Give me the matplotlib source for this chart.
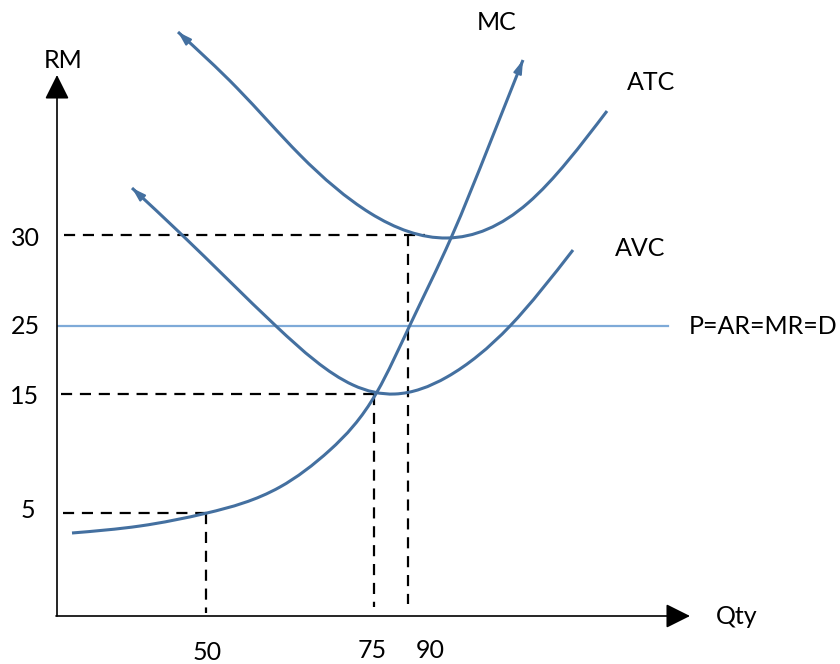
import numpy as np
import matplotlib
matplotlib.use("Agg")
import matplotlib.pyplot as plt
from matplotlib.path import Path
from matplotlib.patches import PathPatch, FancyArrowPatch

# ---- schematic data (canvas units: x = quantity position, y = price position, y grows downward) ----
mc_q = [72, 140, 207, 280, 330, 377, 410, 451, 490, 523]
mc_p = [533, 526, 513, 487, 450, 392, 325, 238, 143, 60]

atc_q = [178, 237, 300, 370, 447, 528, 607]
atc_p = [32, 88, 155, 213, 238, 203, 111]

avc_q = [132, 180, 277, 353, 395, 447, 510, 573]
avc_p = [188, 233, 327, 385, 394, 377, 326, 250]

y_tick_labels = ["30", "25", "15", "5"]
y_tick_pos = [235, 326, 394, 513]
x_tick_labels = ["50", "75", "90"]
x_tick_pos = [206, 374, 408]
x_label_pos = [207, 372, 430]

price_line_y = 326
origin = (57, 616)

CURVE = "#4470a0"
PLINE = "#7eaad8"
FONT = ["Lato", "DejaVu Sans"]
FS = 18

fig = plt.figure(figsize=(8.4, 6.64), dpi=100)
ax = fig.add_axes([0, 0, 1, 1])
ax.set_xlim(0, 840)
ax.set_ylim(664, 0)
ax.axis("off")


def smooth_path(xs, ys):
    # natural cubic spline y(x) through the points, expressed as Bezier segments
    x = np.asarray(xs, float)
    y = np.asarray(ys, float)
    n = len(x)
    h = np.diff(x)
    A = np.zeros((n, n))
    r = np.zeros(n)
    A[0, 0] = A[-1, -1] = 1.0
    for i in range(1, n - 1):
        A[i, i - 1] = h[i - 1]
        A[i, i] = 2 * (h[i - 1] + h[i])
        A[i, i + 1] = h[i]
        r[i] = 6 * ((y[i + 1] - y[i]) / h[i] - (y[i] - y[i - 1]) / h[i - 1])
    M = np.linalg.solve(A, r)
    d = np.zeros(n)
    for i in range(n - 1):
        d[i] = (y[i + 1] - y[i]) / h[i] - h[i] * (2 * M[i] + M[i + 1]) / 6
    d[-1] = (y[-1] - y[-2]) / h[-1] + h[-1] * (M[-2] + 2 * M[-1]) / 6
    verts = [(x[0], y[0])]
    codes = [Path.MOVETO]
    for i in range(n - 1):
        verts += [(x[i] + h[i] / 3, y[i] + d[i] * h[i] / 3),
                  (x[i + 1] - h[i] / 3, y[i + 1] - d[i + 1] * h[i] / 3),
                  (x[i + 1], y[i + 1])]
        codes += [Path.CURVE4] * 3
    return Path(verts, codes)


for xs, ys in [(mc_q, mc_p), (atc_q, atc_p), (avc_q, avc_p)]:
    ax.add_patch(PathPatch(smooth_path(xs, ys), fill=False, edgecolor=CURVE,
                           lw=2.2, capstyle="butt", zorder=3))


def hook(x0, y0, x1, y1):
    # small barb at the free end of a curve
    d = np.array([x0 - x1, y0 - y1], float)
    d /= np.hypot(*d)
    start = np.array([x0, y0]) - d * 14
    ax.add_patch(FancyArrowPatch(tuple(start), (x0, y0),
                                 arrowstyle="-|>,head_length=3.2,head_width=1.0",
                                 color=CURVE, lw=1.5, mutation_scale=2.5,
                                 shrinkA=0, shrinkB=0, zorder=4))


hook(atc_q[0], atc_p[0], atc_q[1], atc_p[1])
hook(avc_q[0], avc_p[0], avc_q[1], avc_p[1])
hook(mc_q[-1], mc_p[-1], mc_q[-2], mc_p[-2])

# axes with arrows
ax.annotate("", xy=(origin[0], 75), xytext=origin,
            arrowprops=dict(arrowstyle="-|>,head_length=1.0,head_width=0.5",
                            color="black", lw=1.2, shrinkA=0, shrinkB=0,
                            mutation_scale=15))
ax.annotate("", xy=(690, origin[1]), xytext=(origin[0] - 1, origin[1]),
            arrowprops=dict(arrowstyle="-|>,head_length=1.0,head_width=0.5",
                            color="black", lw=1.2, shrinkA=0, shrinkB=0,
                            mutation_scale=15))

# price line
ax.plot([origin[0] + 1, 668], [price_line_y, price_line_y], color=PLINE, lw=1.6, zorder=2)

# dashed guides
dash = dict(color="black", lw=1.6, dashes=(5, 3.5), zorder=2)
ax.plot([64, 425], [y_tick_pos[0]] * 2, **dash)
ax.plot([x_tick_pos[2]] * 2, [y_tick_pos[0], 604], **dash)
ax.plot([61, 376], [y_tick_pos[2]] * 2, **dash)
ax.plot([x_tick_pos[1]] * 2, [y_tick_pos[2], 607], **dash)
ax.plot([63, 207], [y_tick_pos[3]] * 2, **dash)
ax.plot([x_tick_pos[0]] * 2, [y_tick_pos[3], 613], **dash)

txt = dict(fontsize=FS, family=FONT, color="black")
for lab, yp, xo in zip(y_tick_labels, [238, 327, 396, 510], [25, 25, 25, 28]):
    ax.text(xo, yp, lab, ha="center", va="center", **txt)
for lab, xp, yp in zip(x_tick_labels, x_label_pos, [652, 650, 650]):
    ax.text(xp, yp, lab, ha="center", va="center", **txt)

ax.text(63, 60, "RM", ha="center", va="center", **txt)
ax.text(716, 617, "Qty", ha="left", va="center", **txt)
ax.text(477, 22, "MC", ha="left", va="center", **txt)
ax.text(627, 82, "ATC", ha="left", va="center", **txt)
ax.text(615, 248, "AVC", ha="left", va="center", **txt)
ax.text(689, 327, "P=AR=MR=D", ha="left", va="center", **txt)

fig.savefig("out.png", dpi=100)
